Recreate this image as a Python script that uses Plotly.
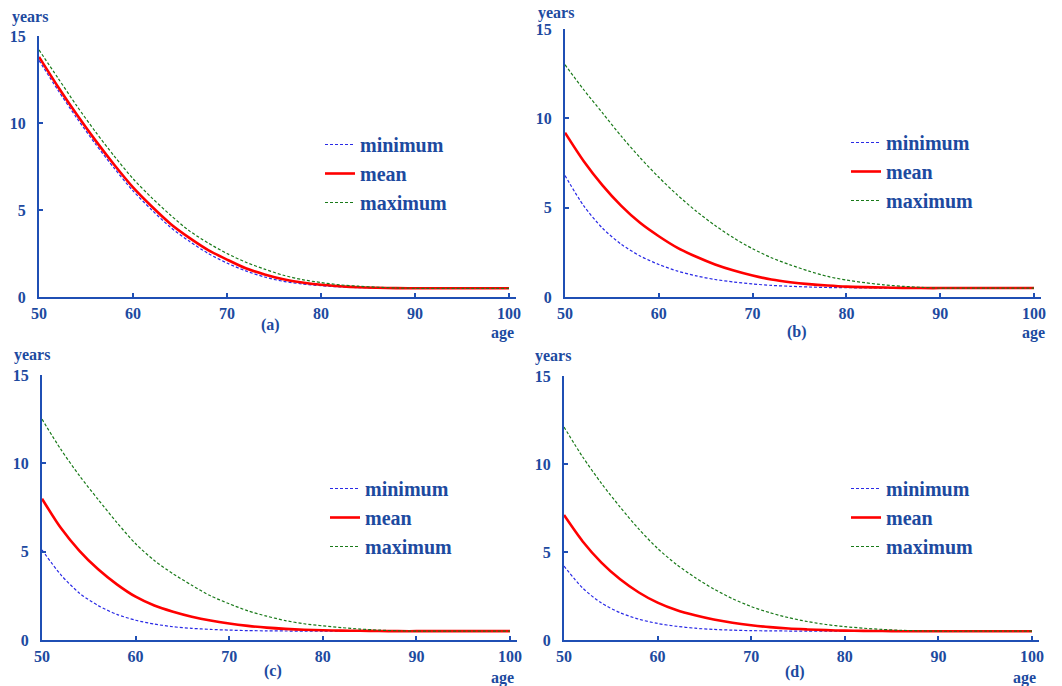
import plotly.graph_objects as go

ages = [50, 52, 54, 56, 58, 60, 62, 64, 66, 68, 70, 72, 74, 76, 78, 80, 82, 84, 86, 88, 90, 95, 100]

a_min  = [13.6, 11.9, 10.3, 8.8, 7.4, 6.1, 5.0, 4.0, 3.2, 2.5, 1.95, 1.5, 1.15, 0.9, 0.75, 0.65, 0.58, 0.54, 0.52, 0.5, 0.5, 0.5, 0.5]
a_mean = [13.8, 12.1, 10.5, 9.0, 7.6, 6.3, 5.2, 4.2, 3.4, 2.7, 2.15, 1.65, 1.3, 1.02, 0.83, 0.7, 0.62, 0.56, 0.53, 0.51, 0.5, 0.5, 0.5]
a_max  = [14.2, 12.6, 11.0, 9.5, 8.1, 6.8, 5.7, 4.7, 3.8, 3.1, 2.5, 2.0, 1.6, 1.25, 1.0, 0.83, 0.7, 0.62, 0.56, 0.52, 0.5, 0.5, 0.5]

b_min  = [6.8, 5.1, 3.85, 2.95, 2.3, 1.82, 1.45, 1.18, 0.98, 0.84, 0.73, 0.65, 0.6, 0.56, 0.53, 0.52, 0.51, 0.5, 0.5, 0.5, 0.5, 0.5, 0.5]
b_mean = [9.2, 7.6, 6.25, 5.1, 4.15, 3.4, 2.75, 2.25, 1.82, 1.48, 1.2, 0.98, 0.83, 0.72, 0.64, 0.58, 0.55, 0.53, 0.51, 0.5, 0.5, 0.5, 0.5]
b_max  = [13.0, 11.6, 10.3, 9.0, 7.8, 6.7, 5.7, 4.8, 4.0, 3.3, 2.7, 2.2, 1.8, 1.45, 1.15, 0.95, 0.8, 0.68, 0.6, 0.54, 0.5, 0.5, 0.5]

c_min  = [5.1, 3.7, 2.65, 1.95, 1.45, 1.12, 0.9, 0.75, 0.66, 0.6, 0.56, 0.53, 0.52, 0.51, 0.5, 0.5, 0.5, 0.5, 0.5, 0.5, 0.5, 0.5, 0.5]
c_mean = [8.0, 6.35, 5.05, 4.0, 3.15, 2.45, 1.95, 1.6, 1.32, 1.1, 0.93, 0.8, 0.7, 0.63, 0.58, 0.55, 0.53, 0.52, 0.51, 0.5, 0.5, 0.5, 0.5]
c_max  = [12.5, 10.8, 9.3, 7.95, 6.65, 5.45, 4.5, 3.75, 3.1, 2.5, 2.05, 1.65, 1.35, 1.1, 0.92, 0.8, 0.7, 0.62, 0.56, 0.52, 0.5, 0.5, 0.5]

d_min  = [4.2, 2.95, 2.1, 1.55, 1.18, 0.94, 0.78, 0.67, 0.6, 0.56, 0.53, 0.52, 0.51, 0.5, 0.5, 0.5, 0.5, 0.5, 0.5, 0.5, 0.5, 0.5, 0.5]
d_mean = [7.1, 5.6, 4.4, 3.45, 2.7, 2.12, 1.7, 1.4, 1.16, 0.98, 0.84, 0.73, 0.65, 0.6, 0.56, 0.53, 0.52, 0.51, 0.5, 0.5, 0.5, 0.5, 0.5]
d_max  = [12.1, 10.4, 8.9, 7.55, 6.3, 5.2, 4.3, 3.55, 2.9, 2.35, 1.9, 1.55, 1.27, 1.05, 0.88, 0.76, 0.67, 0.6, 0.55, 0.52, 0.5, 0.5, 0.5]

panel_labels = ["(a)", "(b)", "(c)", "(d)"]
series_names = ["minimum", "mean", "maximum"]
x_ticks = [50, 60, 70, 80, 90, 100]
y_ticks = [0, 5, 10, 15]

W, H = 1062, 686
AXC = "#1f4fb4"
TXC = "#1d4aa0"
FONT = "'Liberation Serif', 'Times New Roman', serif"

# pixel layout: (x_left, x_right_line, px_of_100, y_top15, y_bottom0)
panels = [
    (39, 516, 509, 36, 297),
    (565, 1041, 1034, 29, 297),
    (42, 517, 510, 375, 640),
    (564, 1039, 1032, 376, 640),
]
data = [(a_min, a_mean, a_max), (b_min, b_mean, b_max), (c_min, c_mean, c_max), (d_min, d_mean, d_max)]
legend_pos = [(320, 125), (846, 123), (325, 469), (846, 469)]
years_pos = [(30, 17), (556, 13), (32, 355), (553, 356)]
cap_pos = [(270, 325), (797, 332), (273, 671), (795, 672)]
age_pos = [(502, 333), (1033, 333), (502, 678), (1024, 678)]

styles = [
    dict(color="#2a2ae6", width=1.2, dash="3px,2px"),
    dict(color="#ff0000", width=2.6),
    dict(color="#1a7a1a", width=1.2, dash="3px,2px"),
]

fig = go.Figure()
annotations = []
for i, (xl, xr, x100, yt, yb) in enumerate(panels):
    sfx = "" if i == 0 else str(i + 1)
    leg = "legend" if i == 0 else f"legend{i+1}"
    pxyr = (x100 - xl) / 50.0
    xmax = 100 + (xr - x100) / pxyr
    for j, ys in enumerate(data[i]):
        fig.add_trace(go.Scatter(
            x=ages, y=ys, mode="lines", name=series_names[j],
            line=dict(shape="spline", smoothing=0.8, **styles[j]),
            xaxis="x" + sfx, yaxis="y" + sfx, legend=leg,
            legendgroup=f"g{i}_{j}",
        ))
    tf = dict(family=FONT, size=16, color=TXC, weight="bold")
    xa = dict(domain=[xl / W, xr / W], range=[50, xmax], anchor="y" + sfx,
              showline=True, linecolor=AXC, linewidth=2, showgrid=False, zeroline=False,
              ticks="inside", ticklen=4, tickwidth=1.5, tickcolor=AXC,
              tickvals=x_ticks, ticktext=[str(v) for v in x_ticks],
              tickfont=tf, ticklabelstandoff=1)
    ya = dict(domain=[1 - yb / H, 1 - yt / H], range=[0, 15], anchor="x" + sfx,
              showline=True, linecolor=AXC, linewidth=2, showgrid=False, zeroline=False,
              ticks="inside", ticklen=4, tickwidth=1.5, tickcolor=AXC,
              tickvals=y_ticks, ticktext=[str(v) for v in y_ticks],
              tickfont=tf, ticklabelstandoff=8)
    fig.update_layout(**{"xaxis" + sfx: xa, "yaxis" + sfx: ya})
    lx, ly = legend_pos[i]
    fig.update_layout(**{leg: dict(x=lx / W, y=1 - ly / H, xanchor="left", yanchor="top",
                                   bgcolor="rgba(0,0,0,0)", itemwidth=30, tracegroupgap=0,
                                   font=dict(family=FONT, size=20, color=TXC, weight="bold"))})
    for (txt, (px, py)) in [("years", years_pos[i]), (panel_labels[i], cap_pos[i]), ("age", age_pos[i])]:
        annotations.append(dict(text=f"<b>{txt}</b>", x=px / W, y=1 - py / H, xref="paper", yref="paper",
                                showarrow=False, xanchor="center", yanchor="middle",
                                font=dict(family=FONT, size=16, color=TXC)))

fig.update_layout(width=W, height=H, margin=dict(l=0, r=0, t=0, b=0, autoexpand=False),
                  paper_bgcolor="white", plot_bgcolor="white",
                  showlegend=True, annotations=annotations,
                  font=dict(family=FONT, color=TXC))
fig.write_html("out.html", config={"displayModeBar": False},
               post_script="document.body.style.margin='0';document.body.style.overflow='hidden';")
